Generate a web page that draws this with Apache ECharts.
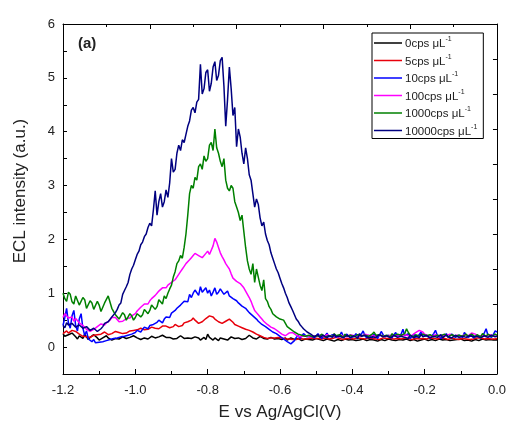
<!DOCTYPE html>
<html>
<head>
<meta charset="utf-8">
<script src="https://cdn.jsdelivr.net/npm/echarts@6/dist/echarts.min.js"></script>
<style>
  html, body { margin: 0; padding: 0; background: #fff; }
  #chart { width: 509px; height: 426px; }
</style>
</head>
<body>
<div id="chart"></div>
<script>
// potential grid: -1.200 V to 0.000 V in 0.005 V steps (241 points)
const potential = [];
for (let i = 0; i <= 240; i++) potential.push(+(-1.2 + i * 0.005).toFixed(3));

const concLabels = ["0cps", "5cps", "10cps", "100cps", "1000cps", "10000cps"];
const colors = ["#000000", "#e8000b", "#0000ff", "#ff00ff", "#008000", "#000080"];

const xTicks = [-1.2, -1.0, -0.8, -0.6, -0.4, -0.2, 0.0];
const yTicks = [0, 1, 2, 3, 4, 5, 6];

// one row = 0.05 V
const c0 = [
  0.25,0.20,0.18,0.23,0.22,0.26,0.28,0.19,0.15,0.21,
  0.20,0.16,0.24,0.19,0.14,0.18,0.19,0.23,0.22,0.17,
  0.13,0.16,0.17,0.20,0.21,0.17,0.15,0.13,0.12,0.16,
  0.18,0.15,0.16,0.19,0.20,0.16,0.14,0.18,0.17,0.21,
  0.22,0.17,0.15,0.14,0.13,0.17,0.19,0.15,0.16,0.20,
  0.21,0.17,0.14,0.19,0.18,0.22,0.25,0.18,0.15,0.18,
  0.20,0.15,0.13,0.16,0.17,0.21,0.22,0.16,0.14,0.17,
  0.19,0.16,0.16,0.19,0.21,0.17,0.13,0.16,0.18,0.14,
  0.24,0.18,0.15,0.13,0.17,0.15,0.12,0.17,0.20,0.15,
  0.16,0.13,0.14,0.19,0.22,0.16,0.15,0.17,0.18,0.14,
  0.13,0.16,0.19,0.22,0.24,0.17,0.14,0.15,0.17,0.20,
  0.21,0.16,0.13,0.15,0.16,0.18,0.19,0.15,0.14,0.16,
  0.18,0.14,0.15,0.17,0.13,0.15,0.17,0.15,0.14,0.13,
  0.16,0.14,0.12,0.14,0.15,0.13,0.14,0.15,0.13,0.12,
  0.16,0.13,0.14,0.12,0.12,0.14,0.15,0.13,0.13,0.12,
  0.11,0.13,0.14,0.12,0.12,0.14,0.15,0.13,0.13,0.14,
  0.14,0.12,0.12,0.13,0.13,0.15,0.15,0.12,0.12,0.14,
  0.14,0.12,0.13,0.14,0.11,0.13,0.14,0.12,0.12,0.14,
  0.15,0.13,0.13,0.12,0.12,0.14,0.14,0.13,0.13,0.15,
  0.15,0.13,0.12,0.14,0.14,0.12,0.11,0.13,0.13,0.14,
  0.15,0.13,0.12,0.14,0.14,0.13,0.12,0.14,0.15,0.13,
  0.13,0.12,0.14,0.15,0.12,0.13,0.13,0.12,0.14,0.15,
  0.15,0.13,0.12,0.13,0.13,0.14,0.11,0.13,0.14,0.12,
  0.12,0.14,0.15,0.13,0.13,0.14,0.14,0.13,0.13,0.13,
  0.13
];

const c5 = [
  0.25,0.22,0.30,0.26,0.28,0.31,0.33,0.29,0.26,0.24,
  0.22,0.20,0.18,0.19,0.17,0.18,0.20,0.22,0.24,0.23,
  0.22,0.24,0.26,0.28,0.25,0.23,0.22,0.25,0.27,0.29,
  0.30,0.27,0.28,0.25,0.24,0.26,0.28,0.30,0.32,0.31,
  0.30,0.32,0.33,0.35,0.36,0.32,0.30,0.33,0.35,0.37,
  0.38,0.35,0.33,0.34,0.36,0.39,0.40,0.39,0.38,0.36,
  0.35,0.38,0.42,0.40,0.38,0.37,0.40,0.45,0.48,0.47,
  0.45,0.50,0.54,0.50,0.47,0.44,0.44,0.47,0.50,0.53,
  0.56,0.58,0.60,0.56,0.52,0.49,0.47,0.45,0.44,0.46,
  0.48,0.50,0.52,0.49,0.46,0.42,0.40,0.39,0.38,0.36,
  0.34,0.33,0.32,0.31,0.30,0.28,0.26,0.24,0.22,0.21,
  0.20,0.18,0.17,0.16,0.16,0.17,0.18,0.17,0.17,0.18,
  0.19,0.17,0.16,0.15,0.14,0.15,0.16,0.14,0.13,0.14,
  0.15,0.16,0.17,0.15,0.14,0.15,0.16,0.17,0.15,0.16,
  0.17,0.16,0.16,0.15,0.15,0.17,0.17,0.15,0.14,0.16,
  0.16,0.18,0.18,0.16,0.15,0.14,0.14,0.16,0.17,0.16,
  0.16,0.15,0.15,0.17,0.18,0.16,0.14,0.15,0.16,0.17,
  0.15,0.16,0.17,0.15,0.16,0.14,0.14,0.17,0.18,0.16,
  0.15,0.16,0.16,0.15,0.17,0.16,0.14,0.15,0.15,0.17,
  0.18,0.16,0.16,0.14,0.15,0.16,0.14,0.15,0.17,0.16,
  0.16,0.15,0.15,0.17,0.18,0.16,0.14,0.15,0.16,0.17,
  0.17,0.16,0.15,0.14,0.16,0.17,0.14,0.15,0.13,0.14,
  0.15,0.16,0.17,0.15,0.16,0.14,0.14,0.15,0.15,0.17,
  0.18,0.17,0.16,0.15,0.15,0.16,0.17,0.15,0.14,0.15,
  0.16
];

const c10 = [
  0.40,0.55,0.72,0.45,0.35,0.58,0.68,0.40,0.30,0.52,
  0.62,0.35,0.22,0.30,0.15,0.12,0.10,0.14,0.08,0.11,
  0.09,0.12,0.10,0.08,0.12,0.15,0.14,0.12,0.16,0.18,
  0.17,0.15,0.19,0.21,0.20,0.18,0.22,0.25,0.24,0.22,
  0.27,0.31,0.30,0.28,0.33,0.37,0.36,0.34,0.40,0.43,
  0.42,0.40,0.46,0.50,0.48,0.45,0.52,0.56,0.58,0.55,
  0.63,0.66,0.68,0.72,0.75,0.78,0.80,0.85,0.88,0.84,
  0.98,0.92,1.00,1.06,1.05,0.96,1.12,1.02,1.05,1.10,
  1.00,1.06,0.95,1.02,1.10,0.98,1.02,1.08,1.05,0.98,
  1.00,1.04,0.95,0.92,0.90,0.93,0.86,0.82,0.80,0.76,
  0.74,0.72,0.68,0.64,0.62,0.58,0.55,0.52,0.48,0.45,
  0.42,0.40,0.38,0.35,0.33,0.30,0.28,0.27,0.25,0.22,
  0.20,0.17,0.15,0.12,0.10,0.08,0.06,0.09,0.12,0.18,
  0.22,0.16,0.18,0.25,0.24,0.19,0.16,0.20,0.22,0.17,
  0.18,0.25,0.22,0.16,0.17,0.21,0.26,0.19,0.18,0.23,
  0.23,0.18,0.15,0.21,0.28,0.20,0.19,0.24,0.22,0.17,
  0.16,0.20,0.25,0.19,0.18,0.24,0.30,0.21,0.17,0.22,
  0.21,0.17,0.24,0.20,0.16,0.22,0.29,0.23,0.19,0.18,
  0.22,0.19,0.17,0.23,0.27,0.20,0.18,0.24,0.33,0.21,
  0.20,0.25,0.16,0.20,0.24,0.18,0.19,0.23,0.28,0.20,
  0.17,0.21,0.22,0.17,0.18,0.25,0.31,0.22,0.20,0.16,
  0.16,0.21,0.25,0.18,0.19,0.24,0.23,0.18,0.17,0.22,
  0.21,0.18,0.27,0.22,0.18,0.20,0.22,0.17,0.16,0.21,
  0.24,0.18,0.19,0.26,0.34,0.22,0.20,0.18,0.23,0.30,
  0.28
];

const c100 = [
  0.55,0.62,0.60,0.54,0.52,0.56,0.48,0.53,0.50,0.45,
  0.42,0.40,0.38,0.33,0.34,0.29,0.30,0.33,0.35,0.38,
  0.40,0.43,0.44,0.41,0.45,0.48,0.50,0.55,0.57,0.55,
  0.52,0.47,0.45,0.48,0.50,0.53,0.55,0.54,0.58,0.60,
  0.62,0.67,0.70,0.74,0.76,0.80,0.82,0.80,0.86,0.90,
  0.92,0.96,1.00,1.04,1.06,1.10,1.12,1.10,1.15,1.18,
  1.20,1.22,1.25,1.30,1.32,1.40,1.45,1.50,1.55,1.58,
  1.62,1.66,1.70,1.74,1.76,1.70,1.72,1.66,1.68,1.74,
  1.78,1.72,1.74,1.88,2.02,1.95,1.85,1.75,1.68,1.62,
  1.55,1.50,1.45,1.36,1.28,1.25,1.22,1.24,1.18,1.15,
  1.10,1.04,0.98,0.92,0.85,0.76,0.68,0.64,0.60,0.56,
  0.52,0.48,0.46,0.42,0.40,0.37,0.35,0.34,0.32,0.29,
  0.26,0.24,0.22,0.21,0.20,0.26,0.28,0.27,0.25,0.22,
  0.20,0.19,0.18,0.20,0.22,0.21,0.20,0.18,0.19,0.21,
  0.22,0.20,0.21,0.23,0.19,0.21,0.23,0.20,0.20,0.22,
  0.22,0.20,0.18,0.22,0.24,0.21,0.21,0.19,0.20,0.23,
  0.23,0.21,0.19,0.21,0.22,0.20,0.21,0.24,0.25,0.22,
  0.20,0.21,0.22,0.20,0.19,0.22,0.23,0.21,0.21,0.20,
  0.20,0.22,0.24,0.21,0.22,0.20,0.19,0.21,0.21,0.23,
  0.23,0.21,0.20,0.22,0.22,0.27,0.30,0.31,0.31,0.28,
  0.24,0.22,0.21,0.20,0.20,0.22,0.23,0.21,0.19,0.21,
  0.22,0.20,0.21,0.23,0.24,0.21,0.20,0.21,0.22,0.20,
  0.19,0.21,0.23,0.22,0.21,0.24,0.26,0.25,0.24,0.21,
  0.20,0.21,0.22,0.20,0.19,0.22,0.23,0.21,0.21,0.20,
  0.20
];

const c1000 = [
  1.00,0.90,0.85,1.02,0.98,0.84,0.80,0.95,0.92,0.78,
  0.75,0.92,0.88,0.72,0.70,0.86,0.82,0.70,0.68,0.85,
  0.78,0.66,0.65,0.82,0.80,0.95,0.93,0.72,0.70,0.60,
  0.62,0.52,0.55,0.64,0.60,0.50,0.52,0.62,0.58,0.50,
  0.55,0.62,0.65,0.56,0.60,0.70,0.72,0.62,0.68,0.78,
  0.80,0.70,0.75,0.88,0.85,0.80,0.95,0.90,1.00,1.08,
  1.15,1.30,1.40,1.55,1.60,1.70,1.65,1.85,2.10,2.45,
  2.85,3.00,2.95,3.15,3.10,3.35,3.40,3.30,3.55,3.45,
  3.50,3.75,3.80,3.65,4.05,3.70,3.60,3.45,3.35,3.50,
  3.10,2.95,2.90,3.00,2.95,2.70,2.60,2.50,2.35,2.45,
  2.15,1.85,1.60,1.45,1.35,1.55,1.20,1.45,1.30,1.15,
  1.05,1.25,0.90,0.85,0.75,0.70,0.62,0.60,0.56,0.58,
  0.52,0.55,0.50,0.44,0.38,0.36,0.33,0.30,0.28,0.25,
  0.24,0.21,0.22,0.20,0.20,0.23,0.22,0.19,0.19,0.22,
  0.21,0.18,0.20,0.24,0.23,0.19,0.18,0.21,0.22,0.20,
  0.25,0.21,0.19,0.23,0.21,0.18,0.24,0.20,0.18,0.22,
  0.22,0.19,0.20,0.23,0.26,0.21,0.19,0.22,0.23,0.20,
  0.21,0.24,0.28,0.22,0.20,0.23,0.24,0.20,0.19,0.22,
  0.22,0.19,0.25,0.21,0.20,0.24,0.27,0.22,0.21,0.25,
  0.34,0.27,0.22,0.20,0.19,0.23,0.24,0.20,0.21,0.24,
  0.26,0.21,0.20,0.23,0.23,0.19,0.19,0.22,0.25,0.21,
  0.21,0.24,0.22,0.19,0.20,0.23,0.24,0.20,0.19,0.22,
  0.23,0.20,0.21,0.24,0.20,0.19,0.24,0.21,0.19,0.23,
  0.22,0.19,0.25,0.22,0.20,0.24,0.23,0.20,0.21,0.24,
  0.22
];

const c10000 = [
  0.40,0.36,0.45,0.41,0.38,0.44,0.42,0.37,0.36,0.41,
  0.40,0.35,0.33,0.38,0.36,0.31,0.30,0.35,0.34,0.29,
  0.30,0.34,0.38,0.44,0.42,0.47,0.50,0.56,0.58,0.64,
  0.70,0.78,0.82,0.98,1.05,1.12,1.20,1.35,1.45,1.52,
  1.62,1.72,1.78,1.90,1.95,2.05,2.10,2.22,2.30,2.25,
  2.55,2.90,2.45,2.70,2.85,2.60,2.70,2.92,2.78,3.05,
  3.50,3.25,3.30,3.60,3.75,3.65,3.85,3.80,3.95,4.10,
  4.20,4.40,4.45,4.35,4.55,4.60,5.25,4.70,4.80,5.10,
  5.15,4.75,4.90,5.20,5.30,4.95,5.05,5.32,5.38,4.85,
  4.10,4.60,5.20,4.80,4.30,4.45,3.72,4.05,3.90,3.60,
  3.40,3.70,3.50,3.20,3.10,2.85,2.60,2.75,2.65,2.40,
  2.25,2.32,2.10,1.98,1.90,1.75,1.65,1.55,1.45,1.38,
  1.28,1.18,1.10,1.00,0.92,0.82,0.75,0.68,0.60,0.52,
  0.48,0.42,0.38,0.34,0.32,0.28,0.26,0.24,0.22,0.19,
  0.20,0.23,0.18,0.16,0.22,0.19,0.17,0.21,0.20,0.18,
  0.24,0.19,0.16,0.20,0.21,0.17,0.19,0.22,0.23,0.18,
  0.17,0.21,0.20,0.16,0.25,0.20,0.18,0.22,0.21,0.17,
  0.16,0.19,0.22,0.18,0.19,0.23,0.24,0.19,0.17,0.21,
  0.20,0.17,0.18,0.22,0.23,0.18,0.16,0.20,0.21,0.18,
  0.19,0.16,0.22,0.19,0.17,0.21,0.20,0.17,0.24,0.19,
  0.18,0.22,0.21,0.17,0.16,0.20,0.22,0.18,0.19,0.23,
  0.17,0.20,0.23,0.19,0.20,0.17,0.18,0.22,0.21,0.18,
  0.16,0.20,0.22,0.18,0.19,0.21,0.24,0.19,0.17,0.20,
  0.20,0.17,0.18,0.21,0.22,0.18,0.19,0.22,0.21,0.19,
  0.20
];

const seriesValues = [c0, c5, c10, c100, c1000, c10000];

const chart = echarts.init(document.getElementById("chart"));

const axisFont = { color: "#222", fontFamily: "Liberation Sans", fontSize: 13 };
const nameFont = { color: "#222", fontFamily: "Liberation Sans", fontSize: 17 };

const option = {
  backgroundColor: "#fff",
  animation: false,
  title: {
    text: "(a)",
    left: 73,
    top: 31,
    textStyle: { fontFamily: "Liberation Sans", fontSize: 15, fontWeight: "bold", color: "#222" }
  },
  legend: {
    orient: "vertical",
    left: 372,
    top: 33,
    padding: [3, 6, 1, 2],
    borderColor: "#000",
    borderWidth: 1,
    icon: "path://M0,0 L28,0 L28,1.5 L0,1.5 Z",
    itemWidth: 28,
    itemHeight: 1.5,
    itemGap: 3.5,
    data: concLabels,
    formatter: function (name) {
      return "{m|" + name + " \u03bcL}{s|-1}";
    },
    textStyle: {
      fontFamily: "Liberation Sans",
      color: "#222",
      padding: [0, 0, 0, -2],
      rich: {
        m: { fontSize: 11.5, fontFamily: "Liberation Sans", color: "#222", verticalAlign: "bottom", lineHeight: 14 },
        s: { fontSize: 7, fontFamily: "Liberation Sans", color: "#222", verticalAlign: "top", lineHeight: 14 }
      }
    }
  },
  grid: { left: 63, right: 11, top: 24, bottom: 51 },
  xAxis: [
    {
      type: "value",
      position: "bottom",
      min: -1.2,
      max: 0,
      interval: 0.2,
      name: "E vs Ag/AgCl(V)",
      nameLocation: "middle",
      nameGap: 30,
      nameTextStyle: nameFont,
      axisLine: { onZero: false, lineStyle: { color: "#000", width: 1 } },
      axisTick: { inside: true, length: 5, lineStyle: { color: "#000" } },
      minorTick: { show: true, splitNumber: 2, length: 3, lineStyle: { color: "#000" } },
      axisLabel: Object.assign({ margin: 10, formatter: function (v) {
        const t = xTicks.find(function (k) { return Math.abs(k - v) < 1e-6; });
        return t === undefined ? "" : t.toFixed(1);
      } }, axisFont),
      splitLine: { show: false }
    },
    {
      type: "value",
      position: "top",
      min: 0,
      max: 10,
      interval: 2,
      axisLine: { onZero: false, lineStyle: { color: "#000", width: 1 } },
      axisTick: { inside: true, length: 5, lineStyle: { color: "#000" } },
      minorTick: { show: true, splitNumber: 2, length: 3, lineStyle: { color: "#000" } },
      axisLabel: { show: false },
      splitLine: { show: false }
    }
  ],
  yAxis: [
    {
      type: "value",
      position: "left",
      min: -0.5,
      max: 6,
      interval: 0.5,
      name: "ECL intensity (a.u.)",
      nameLocation: "middle",
      nameGap: 34,
      nameTextStyle: Object.assign({ padding: [0, 0, 0, 16] }, nameFont),
      axisLine: { show: true, onZero: false, lineStyle: { color: "#000", width: 1 } },
      axisTick: { show: true, inside: true, length: 4, lineStyle: { color: "#000" } },
      axisLabel: Object.assign({ margin: 8, formatter: function (v) {
        return yTicks.indexOf(v) >= 0 ? String(v) : "";
      } }, axisFont),
      splitLine: { show: false }
    },
    {
      type: "value",
      position: "right",
      min: 0,
      max: 10,
      interval: 1,
      axisLine: { show: true, onZero: false, lineStyle: { color: "#000", width: 1 } },
      axisTick: { show: true, inside: true, length: 4, lineStyle: { color: "#000" } },
      axisLabel: { show: false },
      splitLine: { show: false }
    }
  ],
  series: concLabels.map(function (name, k) {
    return {
      name: name,
      type: "line",
      xAxisIndex: 0,
      yAxisIndex: 0,
      symbol: "none",
      color: colors[k],
      lineStyle: { width: 1.5, color: colors[k] },
      data: potential.map(function (e, i) { return [e, seriesValues[k][i]]; })
    };
  })
};

chart.setOption(option);
</script>
</body>
</html>
